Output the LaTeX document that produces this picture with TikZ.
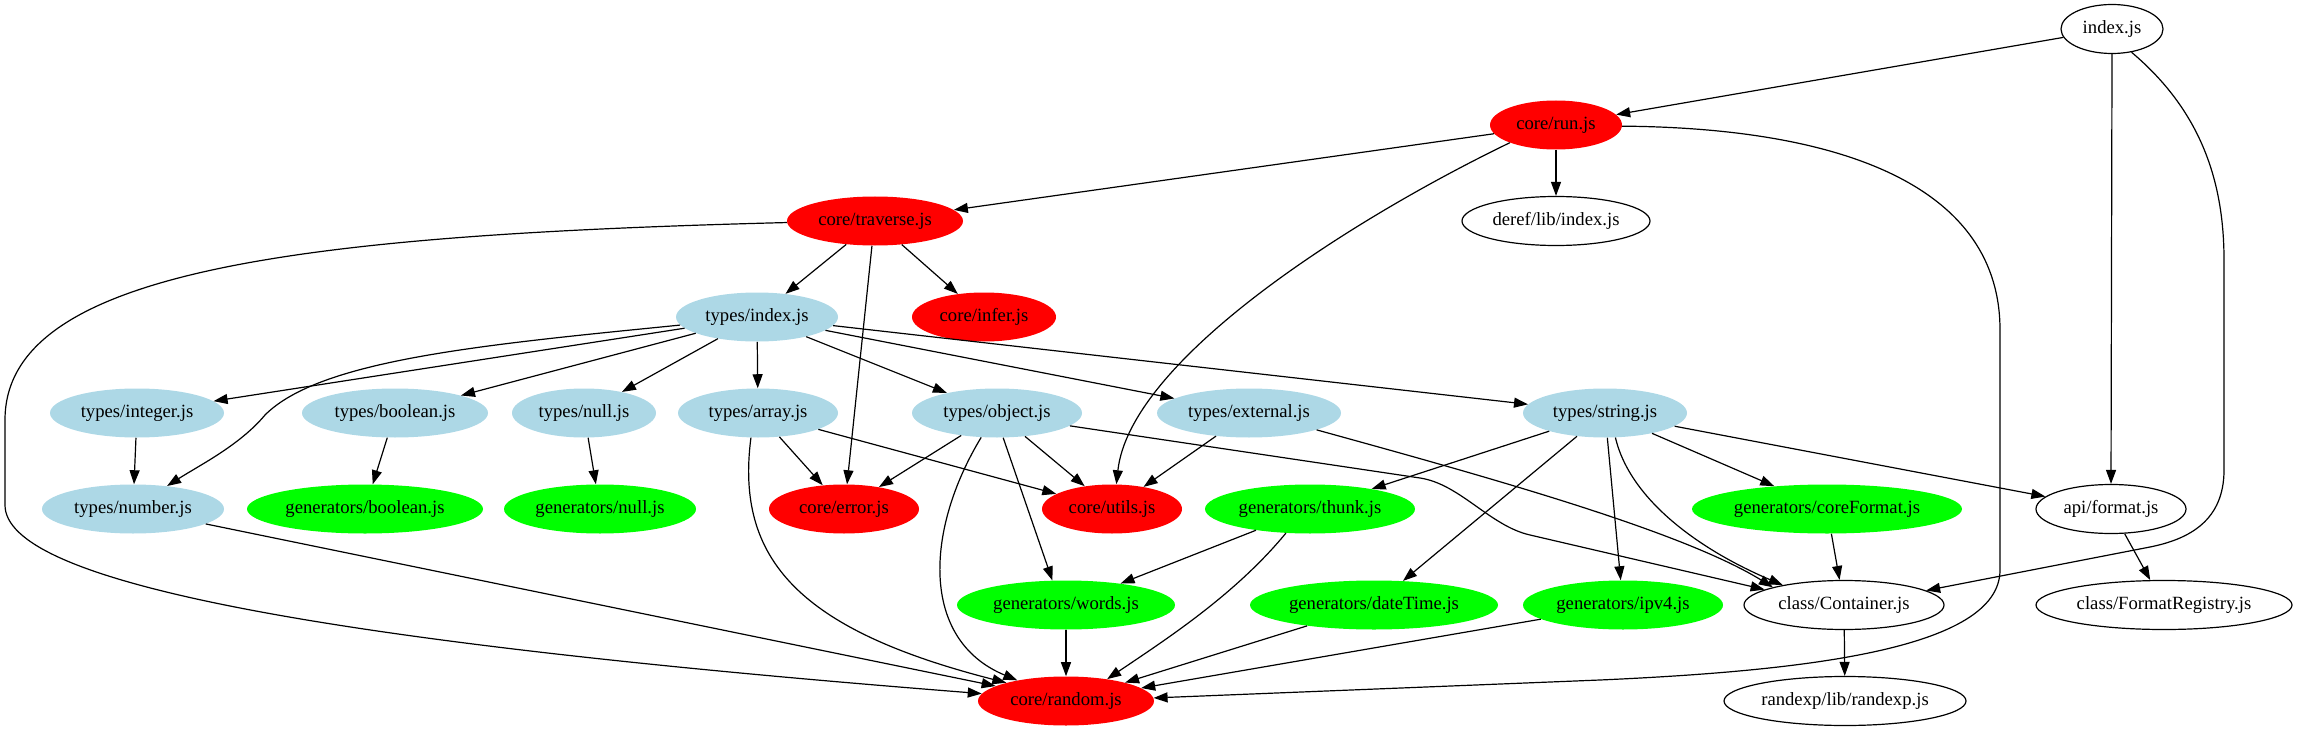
\documentclass[tikz,border=0pt]{standalone}
\usepackage{fontspec}
\setmainfont{Liberation Serif}
\usetikzlibrary{shapes.geometric,arrows.meta}
\definecolor{gvred}{HTML}{FF0000}
\definecolor{gvblue}{HTML}{ADD8E6}
\definecolor{gvgreen}{HTML}{00FF00}
\tikzset{
  nd/.style={ellipse, inner sep=0pt, minimum height=36.75pt, font=\fontsize{14}{16}\selectfont},
  wnode/.style={nd, draw=black, line width=0.9pt, fill=white},
  rnode/.style={nd, fill=gvred},
  bnode/.style={nd, fill=gvblue},
  gnode/.style={nd, fill=gvgreen},
  dep/.style={-{Triangle[length=10.5pt,width=7.5pt]}, line width=0.9pt},
}
\newcommand\gn[6]{\node[#5, minimum width={#4*1.5pt}] (#1) at (#2,#3) {#6};}
\begin{document}
\begin{tikzpicture}[x=0.75pt,y=-0.75pt]
\useasboundingbox (0,0) rectangle (2299,731);
% nodes
\gn{idx}{2112}{29}{51}{wnode}{index.js}
\gn{run}{1556}{125}{66}{rnode}{core/run.js}
\gn{trav}{875}{221}{88}{rnode}{core/traverse.js}
\gn{deref}{1556}{221}{94}{wnode}{deref/lib/index.js}
\gn{tidx}{757}{317}{81}{bnode}{types/index.js}
\gn{infer}{984}{317}{72}{rnode}{core/infer.js}
\gn{tint}{137}{413}{87}{bnode}{types/integer.js}
\gn{tbool}{395}{413}{93}{bnode}{types/boolean.js}
\gn{tnull}{584}{413}{72}{bnode}{types/null.js}
\gn{tarr}{758}{413}{80}{bnode}{types/array.js}
\gn{tobj}{997}{413}{85}{bnode}{types/object.js}
\gn{text}{1249}{413}{92}{bnode}{types/external.js}
\gn{tstr}{1605}{413}{82}{bnode}{types/string.js}
\gn{tnum}{133}{509}{91}{bnode}{types/number.js}
\gn{gbool}{365}{509}{118}{gnode}{generators/boolean.js}
\gn{gnull}{600}{509}{96}{gnode}{generators/null.js}
\gn{error}{844}{509}{75}{rnode}{core/error.js}
\gn{utils}{1112}{509}{70}{rnode}{core/utils.js}
\gn{thunk}{1310}{509}{105}{gnode}{generators/thunk.js}
\gn{corefmt}{1827}{509}{135}{gnode}{generators/coreFormat.js}
\gn{api}{2111}{509}{75}{wnode}{api/format.js}
\gn{words}{1066}{605}{109}{gnode}{generators/words.js}
\gn{dtime}{1374}{605}{124}{gnode}{generators/dateTime.js}
\gn{ipv}{1623}{605}{100}{gnode}{generators/ipv4.js}
\gn{cont}{1844}{605}{100}{wnode}{class/Container.js}
\gn{freg}{2164}{605}{128}{wnode}{class/FormatRegistry.js}
\gn{random}{1066}{701}{88}{rnode}{core/random.js}
\gn{rexp}{1845}{701}{121}{wnode}{randexp/lib/randexp.js}
% edges
\draw[dep] (idx) -- (run);
\draw[dep] (idx.south) -- (api.north);
\draw[dep] (idx.-50) .. controls (2200,110) and (2224,180) .. (2224,260) -- (2224,470) .. controls (2224,520) and (2190,539) .. (2150,547) -- (cont.10);
\draw[dep] (run) -- (trav);
\draw[dep] (run) -- (deref);
\draw[dep] (run.201) .. controls (1350,220) and (1130,360) .. (utils.80);
\draw[dep] (run.-1) .. controls (1850,128) and (2000,190) .. (2000,330) -- (2000,570) .. controls (2000,650) and (1800,671) .. (1600,680) -- (random.2);
\draw[dep] (trav) -- (tidx);
\draw[dep] (trav) -- (infer);
\draw[dep] (trav.-97) -- (error.83);
\draw[dep] (trav.181) .. controls (300,235) and (5,270) .. (5,420) -- (5,505) .. controls (5,580) and (300,640) .. (random.175);
\draw[dep] (tidx) -- (tint);
\draw[dep] (tidx.186) .. controls (480,345) and (320,360) .. (265,415) .. controls (240,445) and (200,465) .. (tnum.34);
\draw[dep] (tidx) -- (tbool);
\draw[dep] (tidx) -- (tnull);
\draw[dep] (tidx) -- (tarr);
\draw[dep] (tidx) -- (tobj);
\draw[dep] (tidx) -- (text);
\draw[dep] (tidx) -- (tstr);
\draw[dep] (tint) -- (tnum);
\draw[dep] (tbool) -- (gbool);
\draw[dep] (tnull) -- (gnull);
\draw[dep] (tnum) -- (random.168);
\draw[dep] (tarr) -- (error);
\draw[dep] (tarr) -- (utils);
\draw[dep] (tarr.-106) .. controls (735,560) and (800,630) .. (random.163);
\draw[dep] (tobj) -- (error);
\draw[dep] (tobj) -- (utils);
\draw[dep] (tobj.-76) -- (words.119);
\draw[dep] (tobj.-123) .. controls (925,530) and (920,640) .. (random.157);
\draw[dep] (tobj.-10) -- (1420,478) .. controls (1460,484) and (1490,526) .. (1530,535) -- (cont.169);
\draw[dep] (text) -- (utils);
\draw[dep] (text.-14) .. controls (1480,475) and (1680,530) .. (cont.166);
\draw[dep] (tstr) -- (thunk);
\draw[dep] (tstr) -- (dtime);
\draw[dep] (tstr) -- (ipv);
\draw[dep] (tstr.-67) .. controls (1630,500) and (1700,550) .. (cont.162);
\draw[dep] (tstr) -- (corefmt);
\draw[dep] (tstr) -- (api);
\draw[dep] (thunk) -- (words);
\draw[dep] (thunk.-135) .. controls (1235,595) and (1165,640) .. (random.28);
\draw[dep] (words) -- (random);
\draw[dep] (dtime) -- (random);
\draw[dep] (ipv) -- (random);
\draw[dep] (corefmt) -- (cont);
\draw[dep] (api) -- (freg);
\draw[dep] (cont) -- (rexp);
\end{tikzpicture}
\end{document}
